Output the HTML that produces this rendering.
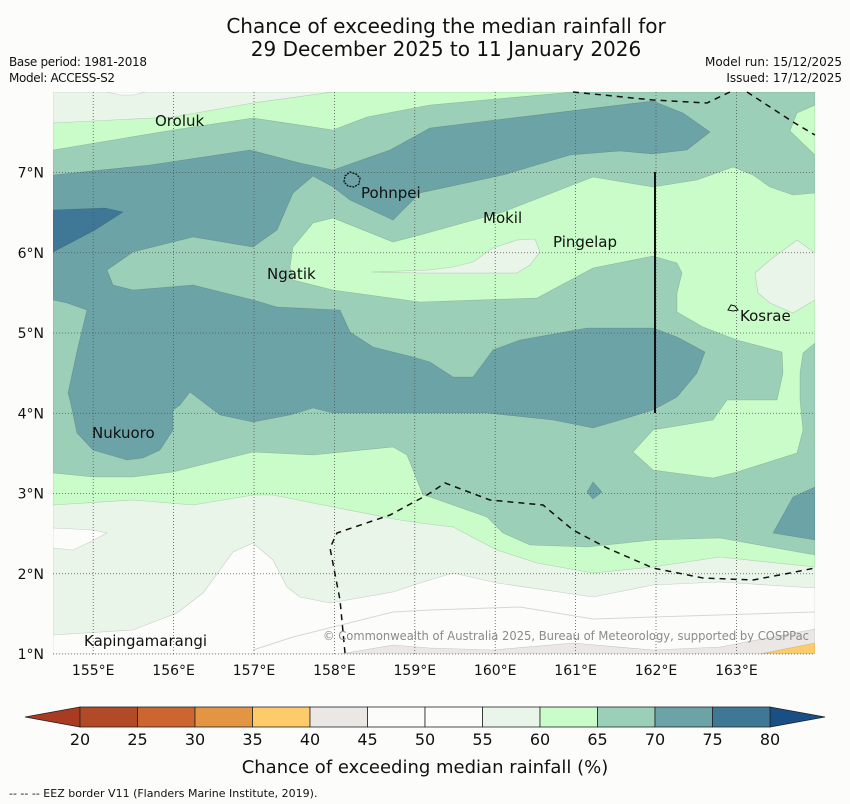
<!DOCTYPE html>
<html><head><meta charset="utf-8">
<style>
html,body{margin:0;padding:0;background:#fcfdfb;}
#wrap{position:relative;width:850px;height:804px;overflow:hidden;font-family:"DejaVu Sans","Liberation Sans",sans-serif;}
svg text{font-family:"DejaVu Sans","Liberation Sans",sans-serif;}
</style></head>
<body>
<div id="wrap">
<svg id="svg" width="850" height="804" viewBox="0 0 850 804">
<text x="446" y="33" font-size="20" text-anchor="middle" fill="#111">Chance of exceeding the median rainfall for</text>
<text x="446" y="56" font-size="20" text-anchor="middle" fill="#111">29 December 2025 to 11 January 2026</text>
<text x="9" y="66" font-size="12" fill="#111" textLength="138">Base period: 1981-2018</text>
<text x="9" y="82" font-size="12" fill="#111" textLength="106">Model: ACCESS-S2</text>
<text x="842" y="66" font-size="12" text-anchor="end" fill="#111">Model run: 15/12/2025</text>
<text x="842" y="82" font-size="12" text-anchor="end" fill="#111">Issued: 17/12/2025</text>

<defs><clipPath id="mapclip"><rect x="53" y="92" width="762" height="562"/></clipPath></defs>
<g clip-path="url(#mapclip)" stroke="rgba(0,0,0,0.18)" stroke-width="0.6">
<rect x="53" y="92" width="762" height="562" fill="#9bcfb8"/>
<polygon fill="#6ca3a6" points="53,175 150,165 250,150 300,163 333,170 390,150 430,128 520,117 653,101 683,113 710,132 687,150 653,154 620,151 570,155 503,175 420,193 393,220 350,200 333,187 313,176 293,193 277,230 253,247 193,237 133,252 107,270 113,285 133,290 193,285 253,300 277,307 340,310 350,332 373,347 413,357 430,362 453,377 473,377 493,350 520,340 587,328 653,328 677,337 705,352 697,373 677,397 653,410 627,418 593,428 553,420 487,413 420,413 333,413 313,408 290,415 253,422 220,415 207,405 190,392 180,405 173,410 173,430 160,450 143,458 127,460 93,450 77,433 70,400 68,393 78,347 87,310 67,303 53,300"/>
<polygon fill="#3f7896" points="53,210 105,208 123,212 95,230 53,252"/>
<polygon fill="#c9fcc8" points="53,92 573,92 430,105 367,117 333,130 253,118 173,130 53,150"/>
<polygon fill="#eaf5ea" points="53,92 333,92 253,103 173,117 53,123"/>
<polygon fill="#fcfdfb" points="107,92 145,92 133,95 120,95"/>
<polygon fill="#c9fcc8" points="797,113 815,105 815,155 790,131"/>
<polygon fill="#c9fcc8" points="290,267 293,247 313,223 333,218 393,242 420,235 503,212 593,177 653,187 697,180 733,167 753,175 770,187 793,195 815,193 815,343 803,353 800,373 800,400 803,430 797,453 737,472 713,478 653,470 633,452 653,430 713,420 727,400 777,400 783,373 782,352 737,340 703,327 677,312 677,293 682,273 677,263 653,256 593,268 537,298 420,302 333,290 293,280"/>
<polygon fill="#eaf5ea" points="372,272 430,270 453,267 473,262 493,248 517,240 535,239 540,252 530,265 517,273 473,273 420,273"/>
<polygon fill="#eaf5ea" points="755,273 758,293 770,303 793,313 815,300 815,253 797,240 770,260"/>
<polygon fill="#6ca3a6" points="593,482 602,492 593,499 587,492"/>
<polygon fill="#6ca3a6" points="815,487 793,497 773,533 815,540"/>
<polygon fill="#c9fcc8" points="53,473 93,477 133,477 173,472 253,452 313,455 393,447 407,455 423,495 430,497 487,517 503,533 530,545 587,547 653,540 720,538 815,555 815,654 53,654"/>
<polygon fill="#eaf5ea" points="53,505 133,500 193,505 253,495 273,495 333,507 400,520 420,523 453,527 497,550 537,563 593,573 653,567 720,557 815,567 815,654 53,654"/>
<polygon fill="#fcfdfb" points="53,528 93,530 107,533 90,542 73,550 53,548"/>
<polygon fill="#fcfdfb" points="53,635 133,630 177,613 203,593 233,552 253,543 273,560 287,587 300,597 330,603 393,592 420,583 453,573 497,583 593,597 653,585 720,582 815,588 815,654 53,654"/>
<polyline fill="none" stroke="#d6d6d6" stroke-width="1" points="253,650 293,637 393,612 430,610 520,607 593,619 653,617 815,612"/>
<polygon fill="#ebe7e4" points="340,654 393,645 430,648 493,650 573,643 653,650 720,647 815,629 815,654"/>
<polygon fill="#fecb6a" points="760,654 815,643 815,654"/>
</g>
<g id="grid"></g>
<g fill="none" stroke="#111" stroke-width="1.5" stroke-dasharray="6,5">
<polyline points="573,92 653,100 707,103 730,92"/>
<polyline points="747,92 793,122 815,135"/>
<polyline points="345,653 340,600 330,548 337,533 390,515 427,495 445,483 490,500 543,505 573,530 607,548 653,568 703,578 753,580 790,573 815,568"/>
</g>
<line x1="655" y1="172" x2="655" y2="413" stroke="#111" stroke-width="2"/>
<path d="M345,176 l5,-4 6,2 4,4 -1,6 -5,3 -6,-1 -4,-4z" fill="none" stroke="#111" stroke-width="1.3" stroke-dasharray="2,1"/>
<path d="M728,310 l3,-5 4,1 3,4 -5,1z" fill="none" stroke="#111" stroke-width="1"/>
<g font-size="15" fill="#111">
<text x="155" y="126">Oroluk</text>
<text x="361" y="198">Pohnpei</text>
<text x="483" y="223">Mokil</text>
<text x="553" y="247">Pingelap</text>
<text x="267" y="279">Ngatik</text>
<text x="740" y="321">Kosrae</text>
<text x="92" y="438">Nukuoro</text>
<text x="84" y="646">Kapingamarangi</text>
</g>
<text x="323" y="640" font-size="12" textLength="486" lengthAdjust="spacingAndGlyphs" fill="#8a8a8a">© Commonwealth of Australia 2025, Bureau of Meteorology, supported by COSPPac</text>
<g id="axes"></g>
<g id="cbar"></g>
<text x="425" y="773" font-size="18" text-anchor="middle" fill="#111">Chance of exceeding median rainfall (%)</text>
<text x="9" y="797" font-size="11" fill="#111">--  --  -- EEZ border V11 (Flanders Marine Institute, 2019).</text>
</svg>
</div>
<script>
const lonTicks = [155,156,157,158,159,160,161,162,163];
const latTicks = [1,2,3,4,5,6,7];
const cbarBounds = [20,25,30,35,40,45,50,55,60,65,70,75,80];
const cbarColors = ["#b34a27","#cd6531","#e39543","#fecb6a","#ebe7e4","#fcfdfb","#fcfdfb","#eaf5ea","#c9fcc8","#9bcfb8","#6ca3a6","#3f7896"];
const lowColor = "#a83b22";
const highColor = "#1a4f86";

const NS="http://www.w3.org/2000/svg";
function xLon(v){return 53+(v-154.5)*80.4;}
function yLat(v){return 654-(v-1)*80.25;}
function cx(v){return 80+(v-20)/60*690;}
function mk(tag,attrs,parent){const e=document.createElementNS(NS,tag);for(const k in attrs)e.setAttribute(k,attrs[k]);parent.appendChild(e);return e;}
const grid=document.getElementById('grid'),axes=document.getElementById('axes'),cbar=document.getElementById('cbar');
lonTicks.forEach(v=>{
  const l=mk('line',{x1:xLon(v),x2:xLon(v),y1:92,y2:654,stroke:'#555','stroke-width':0.8,'stroke-dasharray':'1,2'},grid);
  
  
  const t=mk('text',{x:xLon(v),y:675,'font-size':14,'text-anchor':'middle',fill:'#111'},axes);
  t.textContent=v+'°E';
  
  
});
latTicks.forEach(v=>{
  const l=mk('line',{x1:53,x2:815,y1:yLat(v),y2:yLat(v),stroke:'#555','stroke-width':0.8,'stroke-dasharray':'1,2'},grid);
  
  
  const t=mk('text',{x:44,y:yLat(v)+5,'font-size':14,'text-anchor':'end',fill:'#111'},axes);
  t.textContent=v+'°N';
  
  
});
const y0=707,y1=727;
const lo=mk('polygon',{points:`${cx(20)},${y0} 25,${(y0+y1)/2} ${cx(20)},${y1}`,fill:lowColor,stroke:'#222','stroke-width':0.8},cbar);


const hi=mk('polygon',{points:`${cx(80)},${y0} 825,${(y0+y1)/2} ${cx(80)},${y1}`,fill:highColor,stroke:'#222','stroke-width':0.8},cbar);


cbarColors.forEach((c,i)=>{
  const r=mk('rect',{x:cx(cbarBounds[i]),y:y0,width:cx(cbarBounds[i+1])-cx(cbarBounds[i]),height:y1-y0,fill:c,stroke:'#222','stroke-width':0.8},cbar);
  
  
});
cbarBounds.forEach(v=>{
  const t=mk('text',{x:cx(v),y:745,'font-size':16,'text-anchor':'middle',fill:'#111'},cbar);
  t.textContent=v;
  
  
});
</script>
</body></html>
